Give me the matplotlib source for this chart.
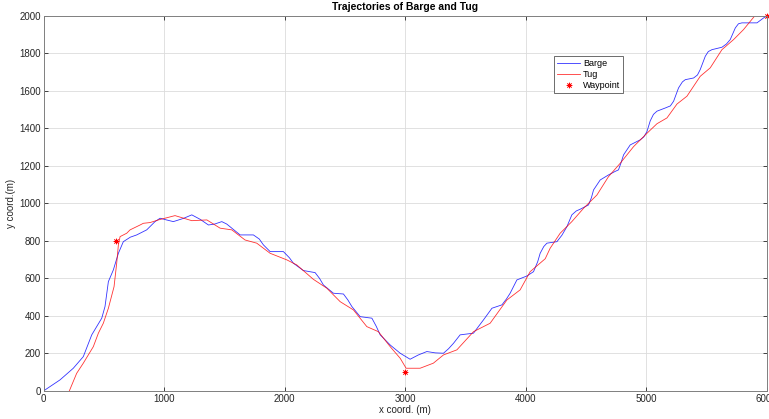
import numpy as np
import matplotlib.pyplot as plt

plt.rcParams['font.family'] = ['Liberation Sans', 'DejaVu Sans']

# barge path (m)
barge_x = [0, 137, 247, 330, 400, 483, 510, 538, 579, 621, 662, 720, 773, 856, 925, 967,
           1020, 1077, 1160, 1230, 1300, 1368, 1420, 1479, 1520, 1562, 1631, 1741, 1790,
           1824, 1880, 1990, 2040, 2073, 2156, 2253, 2290, 2322, 2405, 2488, 2525, 2558,
           2627, 2724, 2760, 2793, 2876, 2959, 3041, 3110, 3180, 3250, 3318, 3360, 3401,
           3456, 3567, 3610, 3650, 3720, 3803, 3840, 3871, 3927, 4010, 4065, 4100, 4120,
           4150, 4176, 4259, 4300, 4342, 4383, 4420, 4452, 4521, 4545, 4563, 4618, 4687,
           4740, 4770, 4790, 4812, 4867, 4950, 4980, 5006, 5033, 5060, 5089, 5158, 5200,
           5227, 5268, 5300, 5324, 5393, 5425, 5448, 5490, 5515, 5545, 5628, 5665, 5697,
           5739, 5765, 5794, 5919, 5973, 6000]
barge_y = [0, 59, 121, 183, 299, 388, 450, 583, 645, 734, 796, 820, 832, 859, 903, 921,
           912, 903, 920, 939, 915, 885, 890, 903, 890, 868, 832, 832, 810,
           779, 743, 743, 710, 681, 642, 631, 600, 565, 521, 517, 485, 450,
           396, 388, 345, 299, 245, 201, 169, 192, 210, 203, 201, 225, 254,
           299, 308, 345, 379, 441, 459, 490, 521, 592, 613, 636, 690, 734,
           770, 788, 796, 830, 876, 939, 960, 969, 992, 1030, 1072, 1125, 1152,
           1170, 1179, 1215, 1259, 1312, 1339, 1355, 1383, 1440, 1475, 1492, 1509, 1520,
           1545, 1616, 1648, 1660, 1669, 1685, 1714, 1785, 1810, 1820, 1833, 1850, 1874,
           1936, 1958, 1963, 1963, 1989, 2000]

# tug path (m)
tug_x = [214, 275, 330, 413, 455, 496, 538, 585, 607, 621, 635, 690, 718, 801, 828,
         884, 953, 1091, 1230, 1355, 1465, 1562, 1672, 1769, 1880, 2018, 2101, 2239,
         2350, 2461, 2571, 2682, 2778, 2876, 2959, 3008, 3056, 3124, 3234, 3318, 3429,
         3567, 3705, 3844, 3954, 4037, 4162, 4203, 4286, 4383, 4480, 4591, 4687, 4784,
         4895, 5006, 5089, 5172, 5255, 5338, 5448, 5531, 5628, 5725, 5807, 5900]
tug_y = [0, 94, 148, 236, 308, 361, 441, 556, 681, 779, 823, 841, 859, 885, 894,
         898, 912, 935, 908, 912, 868, 859, 805, 788, 734, 699, 672, 595,
         548, 476, 432, 343, 316, 236, 174, 121, 121, 121, 148, 192, 219,
         316, 361, 485, 539, 636, 705, 761, 841, 903, 974, 1045, 1143, 1214,
         1303, 1374, 1425, 1456, 1530, 1572, 1678, 1723, 1820, 1874, 1927, 2000]

wp_x = [600, 3000, 6000]
wp_y = [800, 100, 2000]

fig = plt.figure(figsize=(7.69, 4.19), dpi=100)
ax = fig.add_axes([0.0566, 0.067, 0.9405, 0.895])

ax.plot(barge_x, barge_y, color='#0000ff', lw=0.6, alpha=0.8, label='Barge')
ax.plot(tug_x, tug_y, color='#ff0000', lw=0.6, alpha=0.8, label='Tug')
ax.plot(wp_x, wp_y, ls='none', marker=(8, 2, 0), ms=4, mew=0.5, color='#ff0000',
        label='Waypoint', clip_on=False)

ax.set_xlim(0, 6000)
ax.set_ylim(0, 2000)
ax.set_xticks(np.arange(0, 6001, 1000))
ax.set_yticks(np.arange(0, 2001, 200))
ax.grid(True, color='#dcdcdc', lw=0.6)
ax.set_axisbelow(True)
ax.tick_params(direction='in', top=True, right=True, length=3, width=0.6,
               labelsize=7, colors='#262626', pad=2)
for s in ax.spines.values():
    s.set_color('#7f7f7f')
    s.set_linewidth(0.7)

ax.set_title('Trajectories of Barge and Tug', fontsize=7.5, fontweight='bold', pad=4)
ax.set_xlabel('x coord. (m)', fontsize=7, color='#262626', labelpad=1)
ax.set_ylabel('y coord.(m)', fontsize=7, color='#262626', labelpad=2)

leg = ax.legend(loc='upper left', bbox_to_anchor=(0.706, 0.893), fontsize=6.5,
                fancybox=False, framealpha=1, edgecolor='#555555', handlelength=2.6,
                borderpad=0.3, labelspacing=0.25, handletextpad=0.3, borderaxespad=0)
leg.get_frame().set_linewidth(0.6)

fig.savefig('out.png', dpi=100)
